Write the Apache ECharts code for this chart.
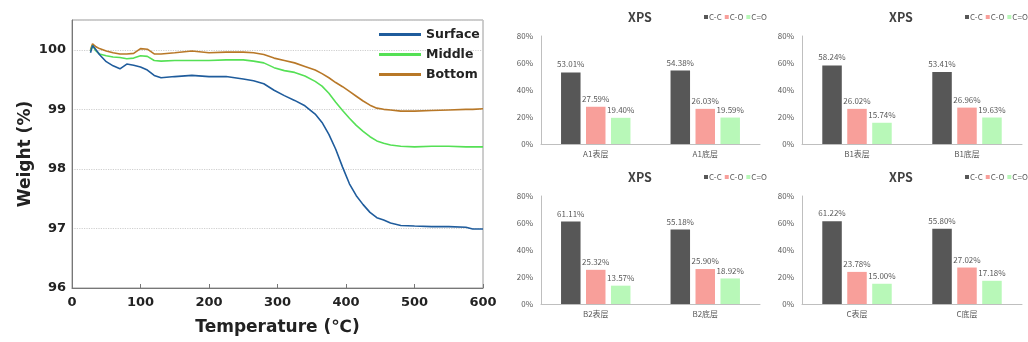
<!DOCTYPE html>
<html>
<head>
<meta charset="utf-8">
<script src="https://cdn.jsdelivr.net/npm/echarts@6/dist/echarts.min.js"></script>
<style>
html,body{margin:0;padding:0;background:#fff;}
#chart{width:1028px;height:342px;}
</style>
</head>
<body>
<div id="chart"></div>
<script>
// ---- TGA data ----
const temps   = [27, 30, 35, 40, 50, 60, 70, 80, 90, 100, 110, 120, 130, 150, 175, 200, 225, 250, 265, 280, 295, 310, 325, 340, 355, 365, 375, 385, 395, 405, 415, 425, 435, 445, 455, 465, 480, 500, 525, 550, 575, 585, 600];
const surface = [99.95, 100.07, 100.0, 99.92, 99.8, 99.73, 99.68, 99.76, 99.74, 99.71, 99.66, 99.57, 99.53, 99.55, 99.57, 99.55, 99.55, 99.51, 99.48, 99.43, 99.32, 99.23, 99.15, 99.06, 98.92, 98.78, 98.58, 98.33, 98.03, 97.75, 97.55, 97.40, 97.27, 97.18, 97.14, 97.09, 97.05, 97.04, 97.03, 97.03, 97.02, 96.99, 96.99];
const middle  = [99.98, 100.07, 99.98, 99.93, 99.9, 99.88, 99.87, 99.85, 99.86, 99.9, 99.89, 99.82, 99.81, 99.82, 99.82, 99.82, 99.83, 99.83, 99.81, 99.78, 99.70, 99.65, 99.62, 99.56, 99.47, 99.39, 99.27, 99.12, 98.98, 98.85, 98.73, 98.63, 98.54, 98.47, 98.43, 98.40, 98.38, 98.37, 98.38, 98.38, 98.37, 98.37, 98.37];
const bottom  = [100.0, 100.1, 100.05, 100.02, 99.98, 99.95, 99.93, 99.93, 99.94, 100.02, 100.01, 99.93, 99.93, 99.95, 99.98, 99.95, 99.96, 99.96, 99.95, 99.92, 99.86, 99.82, 99.78, 99.72, 99.66, 99.6, 99.53, 99.45, 99.38, 99.30, 99.22, 99.14, 99.07, 99.02, 99.0, 98.99, 98.97, 98.97, 98.98, 98.99, 99.0, 99.0, 99.01];
const tgaNames = ['Surface', 'Middle', 'Bottom'];

// ---- XPS data ----
const bondNames = ['C-C', 'C-O', 'C=O'];
const catA1 = ['A1表层', 'A1底层'];
const ccA1 = [53.01, 54.38];
const coA1 = [27.59, 26.03];
const c2oA1 = [19.40, 19.59];
const catB1 = ['B1表层', 'B1底层'];
const ccB1 = [58.24, 53.41];
const coB1 = [26.02, 26.96];
const c2oB1 = [15.74, 19.63];
const catB2 = ['B2表层', 'B2底层'];
const ccB2 = [61.11, 55.18];
const coB2 = [25.32, 25.90];
const c2oB2 = [13.57, 18.92];
const catC = ['C表层', 'C底层'];
const ccC = [61.22, 55.80];
const coC = [23.78, 27.02];
const c2oC = [15.00, 17.18];
const xpsTicks = [0, 20, 40, 60, 80];

const panels = [
  {cats: catA1, vals: [ccA1, coA1, c2oA1]},
  {cats: catB1, vals: [ccB1, coB1, c2oB1]},
  {cats: catB2, vals: [ccB2, coB2, c2oB2]},
  {cats: catC,  vals: [ccC,  coC,  c2oC]}
];
// layout (not data)
const panelLayout = [
  {left: 541, top: 36, width: 219, titleX: 640, titleTop: 11, legendLeft: 704, legendTop: 13},
  {left: 802, top: 36, width: 220, titleX: 901, titleTop: 11, legendLeft: 965, legendTop: 13},
  {left: 541, top: 196, width: 219, titleX: 640, titleTop: 171, legendLeft: 704, legendTop: 173},
  {left: 802, top: 196, width: 220, titleX: 901, titleTop: 171, legendLeft: 965, legendTop: 173}
];
const bondColors = ['#575757', '#f89f9a', '#b8f8b8'];
const lineColors = ['#1f5c9c', '#55e055', '#b87828'];
const cjk = '"Noto Sans CJK SC", "Noto Sans", sans-serif';
const bold = '"DejaVu Sans", Verdana, sans-serif';

const grids = [{left: 72, top: 20, width: 411, height: 268, show: true, borderColor: '#9a9a9a', borderWidth: 1, backgroundColor: '#fff'}];
const xAxes = [{
  type: 'value', gridIndex: 0, min: 0, max: 600, interval: 100,
  name: 'Temperature (℃)', nameLocation: 'middle', nameGap: 31,
  nameTextStyle: {fontFamily: bold, fontWeight: 'bold', fontSize: 17, color: '#222'},
  axisLine: {show: true, lineStyle: {color: '#777', width: 1}},
  axisTick: {show: true, inside: true, length: 4, lineStyle: {color: '#777'}},
  axisLabel: {fontFamily: bold, fontWeight: 'bold', fontSize: 13, color: '#222', margin: 8},
  splitLine: {show: false}
}];
const yAxes = [{
  type: 'value', gridIndex: 0, min: 96, max: 100.5, interval: 1,
  name: 'Weight (%)', nameLocation: 'middle', nameGap: 38,
  nameTextStyle: {fontFamily: bold, fontWeight: 'bold', fontSize: 17, color: '#222'},
  axisLine: {show: true, lineStyle: {color: '#777', width: 1}},
  axisTick: {show: false},
  axisLabel: {fontFamily: bold, fontWeight: 'bold', fontSize: 13, color: '#222', margin: 6,
    formatter: v => (Math.abs(v - Math.round(v)) < 1e-6 ? String(Math.round(v)) : '')},
  splitLine: {show: true, lineStyle: {color: '#cfcfcf', type: 'dotted', width: 1.2}}
}];
const series = tgaNames.map((n, i) => ({
  name: n, type: 'line', xAxisIndex: 0, yAxisIndex: 0, showSymbol: false, symbol: 'none',
  lineStyle: {color: lineColors[i], width: 1.6}, itemStyle: {color: lineColors[i]},
  data: temps.map((t, k) => [t, [surface, middle, bottom][i][k]]),
  z: 3 - i
}));
const titles = [];
const legends = [{
  data: tgaNames, orient: 'vertical', left: 379, top: 28, padding: 0, itemGap: 7,
  icon: 'rect', itemWidth: 42, itemHeight: 3,
  textStyle: {fontFamily: bold, fontWeight: 'bold', fontSize: 12.5, color: '#222'}
}];

panels.forEach((p, i) => {
  const L = panelLayout[i];
  const gi = i + 1;
  grids.push({left: L.left, top: L.top, width: L.width, height: 108});
  xAxes.push({
    type: 'category', gridIndex: gi, data: p.cats,
    axisLine: {show: true, lineStyle: {color: '#bfbfbf'}},
    axisTick: {show: false},
    axisLabel: {fontFamily: cjk, fontSize: 8, color: '#595959', margin: 6}
  });
  yAxes.push({
    type: 'value', gridIndex: gi, min: xpsTicks[0], max: xpsTicks[xpsTicks.length - 1], interval: 20,
    axisLine: {show: true, lineStyle: {color: '#bfbfbf'}},
    axisTick: {show: false},
    splitLine: {show: false},
    axisLabel: {fontFamily: cjk, fontSize: 8, color: '#595959', margin: 8, formatter: '{value}%'}
  });
  titles.push({
    text: 'XPS', left: L.titleX, top: L.titleTop, textAlign: 'center', padding: 0,
    textStyle: {fontFamily: cjk, fontWeight: 'bold', fontSize: 12.5, color: '#404040'}
  });
  legends.push({
    data: bondNames, left: L.legendLeft, top: L.legendTop, width: 100, padding: 0, itemGap: 3,
    icon: 'rect', itemWidth: 4, itemHeight: 4,
    itemStyle: {borderWidth: 0},
    textStyle: {fontFamily: cjk, fontSize: 8, color: '#595959', padding: [0, 0, 0, -4]}
  });
  bondNames.forEach((b, j) => {
    series.push({
      name: b, type: 'bar', xAxisIndex: gi, yAxisIndex: gi,
      barWidth: 19.5, barGap: '28%',
      itemStyle: {color: bondColors[j]},
      label: {show: true, position: 'top', distance: 4, fontFamily: cjk, fontSize: 8, color: '#595959',
        formatter: d => d.value.toFixed(2) + '%'},
      data: p.vals[j]
    });
  });
});

const chart = echarts.init(document.getElementById('chart'), null, {renderer: 'canvas'});
chart.setOption({
  animation: false,
  backgroundColor: '#fff',
  title: titles,
  legend: legends,
  grid: grids,
  xAxis: xAxes,
  yAxis: yAxes,
  series: series
});
</script>
</body>
</html>
